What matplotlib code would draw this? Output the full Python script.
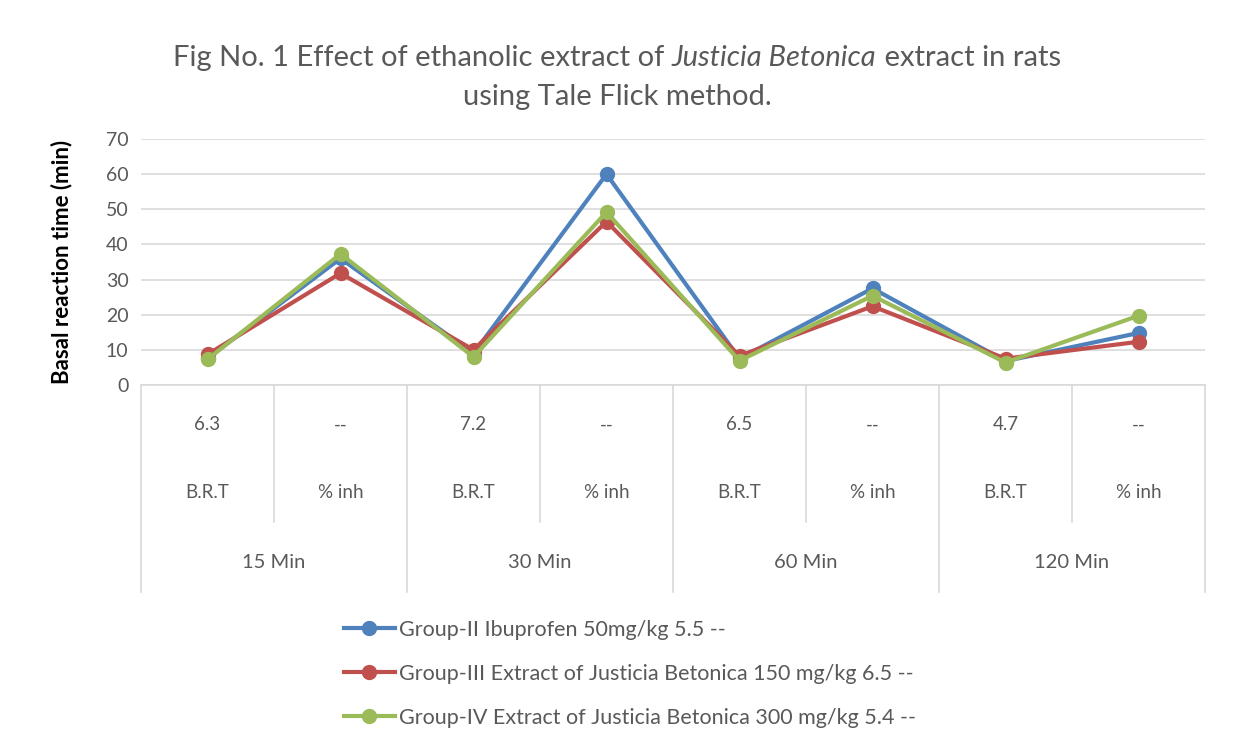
import matplotlib
matplotlib.use("Agg")
import matplotlib.pyplot as plt
from matplotlib.lines import Line2D

# ---- data ----
groups = ["15 Min", "30 Min", "60 Min", "120 Min"]
sub_labels = ["B.R.T", "% inh"]
control_values = ["6.3", "--", "7.2", "--", "6.5", "--", "4.7", "--"]
series_names = [
    "Group-II Ibuprofen 50mg/kg 5.5 --",
    "Group-III Extract of Justicia Betonica 150 mg/kg 6.5 --",
    "Group-IV Extract of Justicia Betonica 300 mg/kg 5.4 --",
]
ibuprofen = [7.6, 36.0, 9.0, 60.0, 7.5, 27.5, 6.8, 14.8]
extract150 = [8.7, 31.8, 10.0, 46.5, 8.3, 22.4, 7.5, 12.3]
extract300 = [7.3, 37.3, 8.0, 49.2, 6.9, 25.4, 6.4, 19.7]
colors = ["#4F81BD", "#C0504D", "#9BBB59"]
yticks = [0, 10, 20, 30, 40, 50, 60, 70]

plt.rcParams['font.family'] = ['Lato', 'DejaVu Sans']

W, H = 1234, 747
fig = plt.figure(figsize=(W / 100, H / 100), dpi=100)
fig.patch.set_facecolor("white")

left, right, top, bottom = 141, 1205, 139, 385
ax = fig.add_axes([left / W, 1 - bottom / H, (right - left) / W, (bottom - top) / H])

x = list(range(len(control_values)))
for vals, c, name in zip([ibuprofen, extract150, extract300], colors, series_names):
    ax.plot(x, vals, color=c, lw=3.0, marker="o", ms=10, label=name,
            solid_capstyle="round", zorder=3)

ax.set_xlim(-0.5, len(x) - 0.5)
ax.set_ylim(0, 70)
ax.set_yticks(yticks)
ax.set_xticks([])
ax.tick_params(axis="y", length=0, pad=9, labelsize=14, labelcolor="#595959")
ax.grid(axis="y", color="#D9D9D9", lw=1.2, zorder=0)
for s in ["left", "right", "top"]:
    ax.spines[s].set_visible(False)
ax.spines["bottom"].set_color("#D9D9D9")
ax.spines["bottom"].set_linewidth(1.2)
ax.set_ylabel("Basal reaction time (min)", fontsize=16, fontweight="bold",
              labelpad=24, color="#000000")

# ---- category table below axis ----
axh = bottom - top
def yf(py):
    return (bottom - py) / axh

tr = ax.get_xaxis_transform()
gray = "#D9D9D9"
row1_bottom = yf(522)
full_bottom = yf(592)
n = len(x)
for i in range(n + 1):
    xb = i - 0.5
    yb = full_bottom if i % 2 == 0 else row1_bottom
    ax.plot([xb, xb], [0, yb], transform=tr, color=gray, lw=1.2, clip_on=False)

txtc = "#595959"
for i in range(n):
    ax.text(i, yf(425), control_values[i], transform=tr, ha="center", va="center",
            fontsize=13.5, color=txtc)
    ax.text(i, yf(493), sub_labels[i % 2], transform=tr, ha="center", va="center",
            fontsize=13.5, color=txtc)
for g, name in enumerate(groups):
    ax.text(2 * g + 0.5, yf(562), name, transform=tr, ha="center", va="center",
            fontsize=14.5, color=txtc)

# ---- legend ----
handles = [Line2D([0], [0], color=c, lw=3.0, marker="o", ms=10) for c in colors]
fig.legend(handles, series_names, loc="upper left",
           bbox_to_anchor=(335 / W, 1 - 611 / H), frameon=False, fontsize=15.5,
           labelcolor=txtc, handlelength=2.4, handletextpad=0.15,
           labelspacing=1.12, borderaxespad=0)

# ---- title with italic part ----
title_color = "#595959"
fs = 21
parts = [("Fig No. 1 Effect of ethanolic extract of ", "normal"),
         ("Justicia Betonica", "italic"),
         (" extract in rats", "normal")]
y1 = 1 - 58 / H
texts = [fig.text(0, y1, p, fontsize=fs, style=st, color=title_color,
                  ha="left", va="center") for p, st in parts]
fig.canvas.draw()
r = fig.canvas.get_renderer()
widths = [t.get_window_extent(r).width for t in texts]
total = sum(widths)
xpos = W / 2 - total / 2
for t, w in zip(texts, widths):
    t.set_x(xpos / W)
    xpos += w
fig.text(0.5, 1 - 97 / H, "using Tale Flick method.", fontsize=fs,
         color=title_color, ha="center", va="center")

fig.savefig("out.png", dpi=100)
